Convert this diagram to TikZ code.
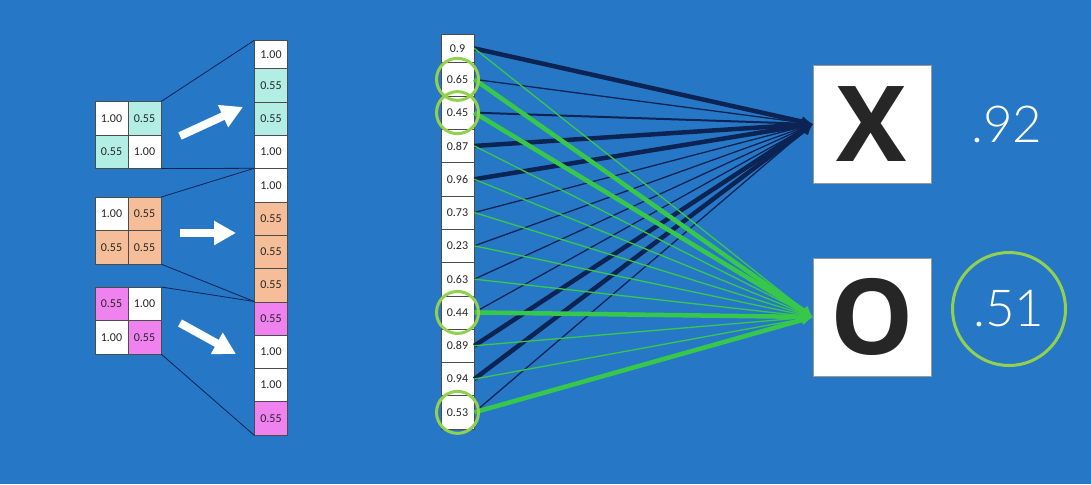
\documentclass[tikz,border=0pt]{standalone}
\usepackage{fontspec}
\setmainfont{Carlito}
\newfontfamily\letterfont{Open Sans}
\newfontfamily\scorefont{Lato Light}
\usetikzlibrary{arrows.meta}

\definecolor{slide}{RGB}{38,120,198}
\definecolor{cellcyan}{RGB}{178,238,228}
\definecolor{cellorange}{RGB}{246,190,152}
\definecolor{cellpink}{RGB}{240,130,240}
\definecolor{navyline}{RGB}{12,36,84}
\definecolor{greenline}{RGB}{55,200,75}
\definecolor{ringgreen}{RGB}{146,208,80}

\tikzstyle{cell}=[draw=black!70, line width=0.6pt, fill=white, inner sep=0pt, minimum width=33pt, minimum height=33.3pt, font=\fontsize{12}{12}\selectfont, text=black!85]
\tikzstyle{guide}=[draw=navyline, line width=0.8pt]
\tikzstyle{flatten}=[white, line width=8pt, -{Triangle[length=22pt,width=23pt]}]
\tikzstyle{vote}=[-{Latex[length=11pt,width=11pt]}]
\tikzstyle{tox}=[vote, navyline]
\tikzstyle{too}=[vote, greenline]
\tikzstyle{strong}=[line width=4.5pt]
\tikzstyle{medium}=[line width=2pt]
\tikzstyle{weak}=[line width=1.3pt]
\tikzstyle{ring}=[draw=ringgreen, line width=3pt, circle, minimum size=42pt, inner sep=0pt]
\tikzstyle{answer}=[draw=black!40, line width=0.5pt, fill=white, minimum size=118pt, inner sep=0pt, font=\letterfont\bfseries\fontsize{105}{105}\selectfont, text=black!85]
\tikzstyle{score}=[white, inner sep=0pt, font=\scorefont\fontsize{51}{51}\selectfont]

\begin{document}
\begin{tikzpicture}[x=1pt, y=-1pt]
				\fill[slide] (0,0) rectangle (1091,484);

				% small grids
				\node[cell] (g1a) at (111.5,118.35) {1.00};
				\node[cell, fill=cellcyan] (g1b) at (144.5,118.35) {0.55};
				\node[cell, fill=cellcyan] (g1c) at (111.5,151.65) {0.55};
				\node[cell] (g1d) at (144.5,151.65) {1.00};

				\node[cell] (g2a) at (111.5,213.95) {1.00};
				\node[cell, fill=cellorange] (g2b) at (144.5,213.95) {0.55};
				\node[cell, fill=cellorange] (g2c) at (111.5,247.25) {0.55};
				\node[cell, fill=cellorange] (g2d) at (144.5,247.25) {0.55};

				\node[cell, fill=cellpink] (g3a) at (111.5,303.95) {0.55};
				\node[cell] (g3b) at (144.5,303.95) {1.00};
				\node[cell] (g3c) at (111.5,337.25) {1.00};
				\node[cell, fill=cellpink] (g3d) at (144.5,337.25) {0.55};

				% flattened column
				\node[cell, minimum height=28pt] (c1) at (271,54.7) {1.00};
				\node[cell, fill=cellcyan] (c2) at (271,85.35) {0.55};
				\node[cell, fill=cellcyan] (c3) at (271,118.65) {0.55};
				\node[cell] (c4) at (271,151.95) {1.00};
				\node[cell] (c5) at (271,185.25) {1.00};
				\node[cell, fill=cellorange] (c6) at (271,218.55) {0.55};
				\node[cell, fill=cellorange] (c7) at (271,251.85) {0.55};
				\node[cell, fill=cellorange] (c8) at (271,285.15) {0.55};
				\node[cell, fill=cellpink] (c9) at (271,318.45) {0.55};
				\node[cell] (c10) at (271,351.75) {1.00};
				\node[cell] (c11) at (271,385.05) {1.00};
				\node[cell, fill=cellpink] (c12) at (271,418.35) {0.55};

				\draw[guide] (g1b.north east) -- (c1.north west);
				\draw[guide] (g1d.south east) -- (c5.north west);
				\draw[guide] (g2b.north east) -- (c5.north west);
				\draw[guide] (g2d.south east) -- (c9.north west);
				\draw[guide] (g3b.north east) -- (c9.north west);
				\draw[guide] (g3d.south east) -- (c12.south west);

				\coordinate (t1) at (180,136);
				\coordinate (h1) at (243,107);
				\coordinate (t2) at (180,233);
				\coordinate (h2) at (236,233);
				\coordinate (t3) at (180,323);
				\coordinate (h3) at (236,354);

				\draw[flatten] (t1) -- (h1);
				\draw[flatten] (t2) -- (h2);
				\draw[flatten] (t3) -- (h3);

				% vote column
				\node[cell, minimum height=28.7pt] (m1) at (457.5,48.4) {0.9};
				\node[cell] (m2) at (457.5,79.35) {0.65};
				\node[cell] (m3) at (457.5,112.65) {0.45};
				\node[cell] (m4) at (457.5,145.95) {0.87};
				\node[cell] (m5) at (457.5,179.25) {0.96};
				\node[cell] (m6) at (457.5,212.55) {0.73};
				\node[cell] (m7) at (457.5,245.85) {0.23};
				\node[cell] (m8) at (457.5,279.15) {0.63};
				\node[cell] (m9) at (457.5,312.45) {0.44};
				\node[cell] (m10) at (457.5,345.75) {0.89};
				\node[cell] (m11) at (457.5,379.05) {0.94};
				\node[cell] (m12) at (457.5,412.35) {0.53};

				\node[answer] (x) at (872,124) {X};
				\node[answer] (o) at (872,317) {O};

				\draw[tox, strong] (m1.east) -- (x.west);
				\draw[tox, weak] (m2.east) -- (x.west);
				\draw[tox, medium] (m3.east) -- (x.west);
				\draw[tox, strong] (m4.east) -- (x.west);
				\draw[tox, strong] (m5.east) -- (x.west);
				\draw[tox, weak] (m6.east) -- (x.west);
				\draw[tox, weak] (m7.east) -- (x.west);
				\draw[tox, weak] (m8.east) -- (x.west);
				\draw[tox, weak] (m9.east) -- (x.west);
				\draw[tox, strong] (m10.east) -- (x.west);
				\draw[tox, strong] (m11.east) -- (x.west);
				\draw[tox, weak] (m12.east) -- (x.west);

				\draw[too, weak] (m1.east) -- (o.west);
				\draw[too, strong] (m2.east) -- (o.west);
				\draw[too, strong] (m3.east) -- (o.west);
				\draw[too, weak] (m4.east) -- (o.west);
				\draw[too, weak] (m5.east) -- (o.west);
				\draw[too, weak] (m6.east) -- (o.west);
				\draw[too, weak] (m7.east) -- (o.west);
				\draw[too, weak] (m8.east) -- (o.west);
				\draw[too, strong] (m9.east) -- (o.west);
				\draw[too, weak] (m10.east) -- (o.west);
				\draw[too, weak] (m11.east) -- (o.west);
				\draw[too, strong] (m12.east) -- (o.west);

				\node[ring] (r2) at (m2) {};
				\node[ring] (r3) at (m3) {};
				\node[ring] (r9) at (m9) {};
				\node[ring] (r12) at (m12) {};

				\node[score] (xs) at (1007,124) {.92};
				\node[score, ring, minimum size=113pt] (os) at (1009,309) {.51};
			\end{tikzpicture}
\end{document}
